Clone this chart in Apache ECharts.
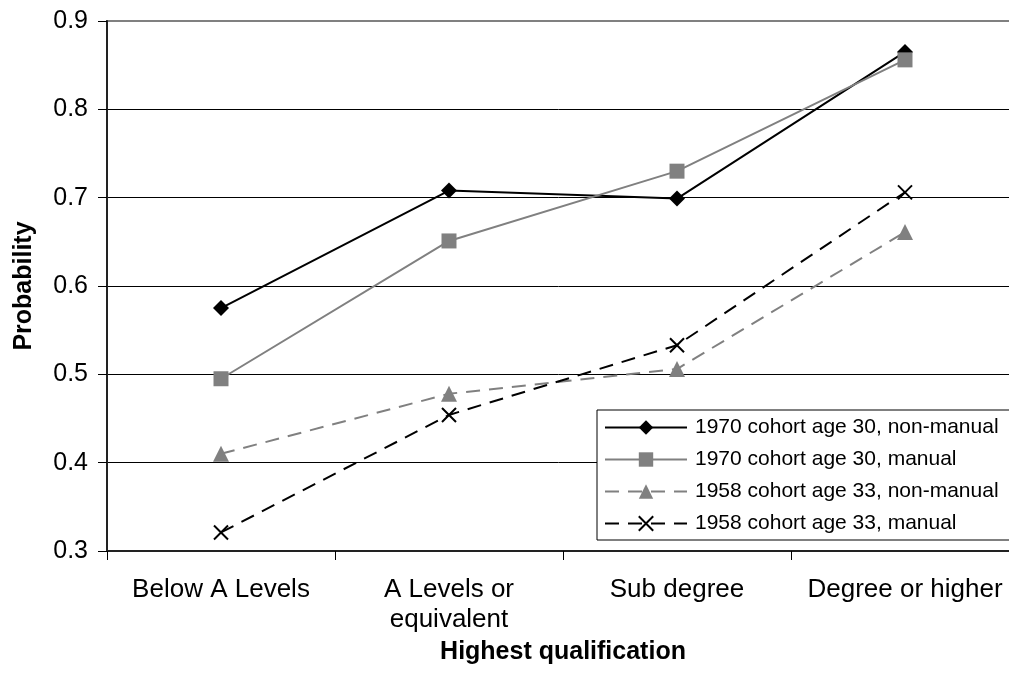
<!DOCTYPE html>
<html>
<head>
<meta charset="utf-8">
<script src="https://cdn.jsdelivr.net/npm/echarts@6/dist/echarts.min.js"></script>
<style>
html,body{margin:0;padding:0;background:#fff;}
#chart{width:1009px;height:684px;}
</style>
</head>
<body>
<div id="chart"></div>
<script>
const categories = ['Below A Levels', 'A Levels or\nequivalent', 'Sub degree', 'Degree or higher'];
const seriesNames = ['1970 cohort age 30, non-manual', '1970 cohort age 30, manual', '1958 cohort age 33, non-manual', '1958 cohort age 33, manual'];
const nonManual1970 = [0.575, 0.708, 0.699, 0.865];
const manual1970 = [0.495, 0.651, 0.730, 0.856];
const nonManual1958 = [0.410, 0.478, 0.506, 0.661];
const manual1958 = [0.321, 0.454, 0.533, 0.706];
const yTicks = [0.3, 0.4, 0.5, 0.6, 0.7, 0.8, 0.9];

const FONT = '"Liberation Sans", Arial, sans-serif';
const xPath = 'path://M0,0L10,10M10,0L0,10';

const chart = echarts.init(document.getElementById('chart'), null, {renderer: 'canvas'});
chart.setOption({
  animation: false,
  backgroundColor: '#fff',
  textStyle: {fontFamily: FONT},
  grid: {left: 107, top: 21, right: -10, bottom: 133, outerBoundsMode: 'none', containLabel: false,
         show: true, borderColor: '#808080', borderWidth: 2, backgroundColor: 'transparent'},
  legend: {
    left: 597, top: 410,
    orient: 'vertical',
    backgroundColor: '#fff',
    borderColor: '#000', borderWidth: 1,
    padding: [7, 20, 6, 7],
    itemGap: 11,
    itemWidth: 82, itemHeight: 18,
    textStyle: {fontFamily: FONT, fontSize: 21, color: '#000', padding: [0, 0, 0, 3]},
    data: seriesNames
  },
  xAxis: {
    type: 'category',
    data: categories,
    name: 'Highest qualification',
    nameLocation: 'middle',
    nameGap: 80,
    nameTextStyle: {fontFamily: FONT, fontSize: 25, fontWeight: 'bold', color: '#000'},
    axisLine: {lineStyle: {color: '#222', width: 2}},
    axisTick: {show: true, length: 9, lineStyle: {color: '#000', width: 1}},
    axisLabel: {fontFamily: FONT, fontSize: 26, color: '#000', margin: 24, lineHeight: 30, interval: 0},
    splitLine: {show: false}
  },
  yAxis: {
    type: 'value',
    min: yTicks[0], max: yTicks[yTicks.length - 1], interval: 0.1,
    name: 'Probability',
    nameLocation: 'middle',
    nameGap: 70,
    nameRotate: 90,
    nameTextStyle: {fontFamily: FONT, fontSize: 25, fontWeight: 'bold', color: '#000'},
    axisLine: {show: true, lineStyle: {color: '#222', width: 2}},
    axisTick: {show: true, length: 9, lineStyle: {color: '#000', width: 1}},
    axisLabel: {fontFamily: FONT, fontSize: 25, color: '#000', margin: 19, formatter: v => v.toFixed(1)},
    splitLine: {show: true, showMaxLine: false, showMinLine: false, lineStyle: {color: '#000', width: 1}}
  },
  series: [
    {name: seriesNames[0], type: 'line', data: nonManual1970, symbol: 'diamond', symbolSize: 16,
     lineStyle: {color: '#000', width: 2}, itemStyle: {color: '#000'}},
    {name: seriesNames[1], type: 'line', data: manual1970, symbol: 'rect', symbolSize: 15,
     lineStyle: {color: '#808080', width: 2}, itemStyle: {color: '#808080'}},
    {name: seriesNames[2], type: 'line', data: nonManual1958, symbol: 'triangle', symbolSize: 16,
     lineStyle: {color: '#808080', width: 2, type: [14, 9]}, itemStyle: {color: '#808080'}},
    {name: seriesNames[3], type: 'line', data: manual1958, symbol: xPath, symbolSize: 14,
     lineStyle: {color: '#000', width: 2, type: [14, 9]}, itemStyle: {color: '#000', borderColor: '#000', borderWidth: 2}}
  ]
});
</script>
</body>
</html>
